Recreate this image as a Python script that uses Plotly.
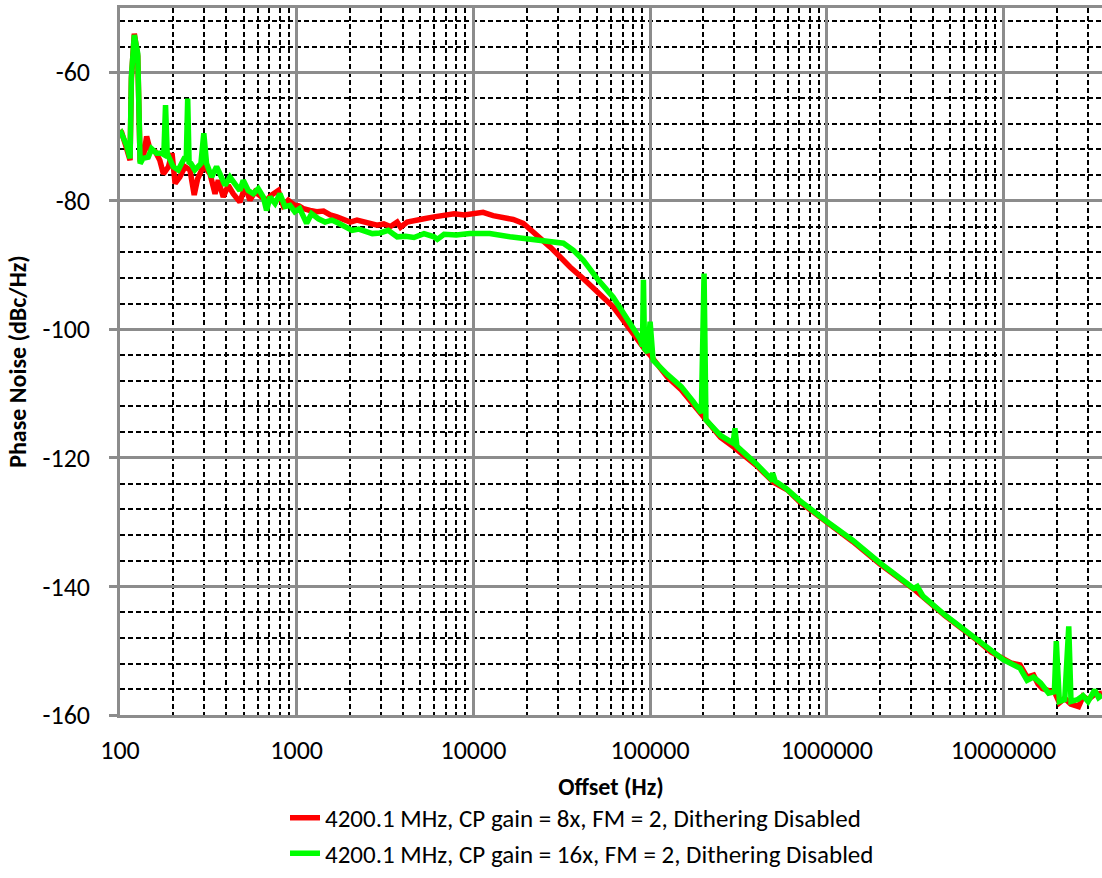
import plotly.graph_objects as go

# Phase noise, CP gain = 8x (offset in Hz, level in dBc/Hz)
FREQ_8X = [
    100, 102, 108, 114, 116, 120.5, 126, 130, 136, 141.5, 148, 158, 168, 176, 188, 197,
    205, 218, 233, 249, 263, 275, 290, 300, 323, 345, 360, 384, 410, 437, 477, 510,
    544, 581, 633, 675, 721, 786, 838, 895, 940, 977, 1030, 1090, 1190, 1298, 1418,
    1547, 1688, 1842, 2010, 2193, 2393, 2612, 2850, 3110, 3393, 3703, 3870, 4220,
    4814, 5253, 5987, 6823, 7777, 8863, 10100, 11340, 12930, 14730, 16800, 19150,
    21830, 24330, 27200, 30900, 35200, 41800, 50000, 61800, 70000, 80000, 87700,
    95000, 100000, 110000, 125000, 150000, 175000, 200000, 250000, 300000, 400000,
    500000, 600000, 700000, 850000, 1000000, 1400000, 2000000, 2500000, 3100000,
    4640000, 6000000, 7340000, 8500000, 9980000, 11000000, 12400000, 13600000,
    14800000, 15700000, 16600000, 18000000, 19500000, 20700000, 22200000, 24000000,
    26600000, 28200000, 30100000, 32800000, 36100000,
]
PN_8X = [
    -69.0, -69.3, -71.5, -73.7, -61.0, -54.0, -57.5, -73.9, -73.0, -70.0, -72.1, -72.3,
    -73.7, -75.8, -74.7, -72.6, -77.3, -76.3, -74.7, -75.2, -79.1, -76.6, -75.2, -74.7,
    -75.8, -78.9, -76.8, -79.4, -77.6, -78.9, -80.2, -77.8, -79.9, -78.6, -79.4, -79.9,
    -79.1, -78.4, -80.7, -79.9, -80.4, -80.7, -80.8, -81.2, -81.5, -81.7, -81.6, -82.2,
    -82.5, -82.9, -83.3, -83.0, -83.3, -83.4, -83.8, -83.6, -84.0, -83.3, -84.1, -83.3,
    -82.9, -82.8, -82.5, -82.2, -82.0, -82.2, -82.0, -81.8, -82.3, -82.5, -82.9, -83.5,
    -84.8, -86.1, -87.2, -88.7, -90.3, -92.1, -94.2, -96.5, -98.5, -100.6, -102.3,
    -103.4, -104.0, -105.5, -107.4, -109.4, -111.6, -113.6, -116.8, -118.4, -121.2,
    -123.8, -125.0, -126.8, -128.5, -130.1, -133.0, -136.5, -138.4, -140.4, -144.5,
    -146.8, -148.7, -150.2, -151.3, -151.9, -152.2, -154.1, -153.8, -155.2, -155.9,
    -156.1, -156.5, -158.1, -157.4, -158.3, -158.7, -157.1, -157.6, -156.8, -156.6,
]

# Phase noise, CP gain = 16x (offset in Hz, level in dBc/Hz)
FREQ_16X = [
    100, 102, 109, 114, 116, 120.5, 126, 130, 135, 144.5, 151, 161, 172, 177, 181, 185,
    200, 213.6, 223, 233, 237, 241.6, 246, 252, 265, 277, 287, 298, 309, 330, 352, 368,
    393, 419, 447, 477, 498, 532, 568, 606, 647, 675, 706, 754, 804, 858, 916, 975,
    1040, 1138, 1214, 1326, 1448, 1581, 1727, 1886, 2058, 2246, 2454, 2679, 2962, 3293,
    3703, 4130, 4610, 5253, 5987, 6250, 6823, 8000, 9540, 11340, 12370, 16100, 20890,
    27200, 32300, 36800, 41800, 47650, 50800, 61800, 70000, 80000, 87700, 90500, 91700,
    93000, 97000, 100000, 102000, 104000, 125000, 150000, 175000, 195000, 202000,
    207000, 250000, 295000, 302000, 310000, 398000, 480000, 494000, 510000, 586000,
    700000, 1000000, 1400000, 1990000, 2490000, 3100000, 3250000, 3500000, 4640000,
    7340000, 9980000, 12400000, 13600000, 14800000, 16200000, 18000000, 19400000,
    19900000, 20700000, 22200000, 23400000, 24100000, 26300000, 28200000, 30100000,
    32800000, 34500000, 36100000,
]
PN_16X = [
    -69.8, -69.5, -71.4, -73.4, -60.7, -54.2, -57.1, -74.2, -73.4, -73.2, -71.9, -72.6,
    -72.6, -72.8, -65.1, -72.6, -74.7, -75.2, -74.2, -73.2, -73.8, -64.1, -74.0, -74.2,
    -75.2, -74.7, -74.2, -69.5, -74.2, -76.3, -74.7, -75.8, -77.6, -76.3, -77.3, -78.4,
    -76.8, -78.4, -78.9, -78.1, -79.4, -81.5, -79.4, -80.4, -78.9, -80.9, -80.7, -81.7,
    -81.2, -83.5, -82.0, -82.8, -83.3, -83.0, -83.5, -84.1, -84.6, -84.4, -84.7, -85.1,
    -85.0, -84.6, -85.6, -85.5, -85.7, -85.1, -85.6, -86.0, -85.2, -85.3, -85.1, -85.0,
    -85.1, -85.6, -85.9, -86.2, -86.6, -87.7, -89.2, -91.3, -92.3, -95.0, -97.4, -99.8,
    -101.5, -102.6, -92.3, -103.0, -103.6, -98.8, -104.2, -104.8, -107.0, -108.9,
    -111.2, -113.0, -91.3, -114.1, -116.5, -117.7, -115.4, -118.2, -120.9, -123.2,
    -122.4, -123.6, -124.7, -126.6, -129.9, -132.8, -136.3, -138.2, -140.3, -140.0,
    -141.5, -144.4, -148.6, -151.4, -152.7, -154.6, -154.1, -155.0, -156.6, -156.4,
    -148.5, -157.9, -157.6, -146.2, -157.9, -157.6, -157.0, -157.9, -156.1, -157.3,
    -156.9,
]

SERIES_NAMES = [
    "4200.1 MHz, CP gain = 8x, FM = 2, Dithering Disabled",
    "4200.1 MHz, CP gain = 16x, FM = 2, Dithering Disabled",
]
SERIES_COLORS = ["#ff0000", "#00ff00"]

X_TICKS = [100, 1000, 10000, 100000, 1000000, 10000000]
X_TICK_TEXT = [str(v) for v in X_TICKS]
Y_TICKS = [-160, -140, -120, -100, -80, -60]
Y_TICK_TEXT = [str(v) for v in Y_TICKS]

FONT = "Carlito, Calibri, 'Open Sans', sans-serif"
MAJOR_GRID = "#8c8c8c"

fig = go.Figure()
for name, color, fx, py in zip(SERIES_NAMES, SERIES_COLORS,
                               [FREQ_8X, FREQ_16X], [PN_8X, PN_16X]):
    fig.add_trace(go.Scatter(
        x=fx, y=py, mode="lines", name=name,
        line=dict(color=color, width=5.5),
    ))

fig.update_layout(
    width=1102, height=878,
    margin=dict(l=120, r=0, t=8, b=163),
    paper_bgcolor="white", plot_bgcolor="white",
    font=dict(family=FONT, color="black", size=26),
    showlegend=True,
    legend=dict(
        x=0.168, y=-0.2277, xanchor="left", yanchor="bottom",
        font=dict(size=25, family=FONT, color="black"),
        bgcolor="rgba(0,0,0,0)", tracegroupgap=0,
    ),
    xaxis=dict(
        type="log", range=[2, 7.5574],
        tickvals=X_TICKS, ticktext=X_TICK_TEXT,
        ticks="", ticklabelstandoff=10,
        showline=True, linecolor=MAJOR_GRID, linewidth=2.5, mirror=True,
        showgrid=True, gridcolor=MAJOR_GRID, gridwidth=2.5,
        minor=dict(dtick="D1", showgrid=True, gridcolor="black",
                   griddash="5px,3px", gridwidth=1.7, ticks=""),
        zeroline=False,
        title=dict(text="<b>Offset (Hz)</b>", font=dict(size=24), standoff=14),
    ),
    yaxis=dict(
        range=[-160, -50],
        tickvals=Y_TICKS, ticktext=Y_TICK_TEXT,
        ticks="outside", ticklen=8, tickwidth=2.5, tickcolor=MAJOR_GRID,
        ticklabelstandoff=14,
        showline=True, linecolor=MAJOR_GRID, linewidth=2.5,
        showgrid=True, gridcolor=MAJOR_GRID, gridwidth=2.5,
        minor=dict(dtick=4, tick0=-160, showgrid=True, gridcolor="black",
                   griddash="5px,3px", gridwidth=1.7, ticks=""),
        zeroline=False,
        title=dict(text="<b>Phase Noise (dBc/Hz)</b>", font=dict(size=24), standoff=10),
    ),
)

fig.write_html("out.html")
